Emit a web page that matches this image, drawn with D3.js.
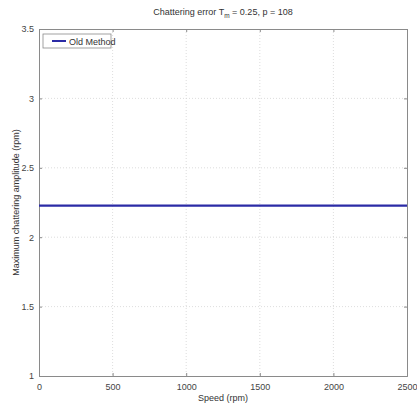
<!DOCTYPE html>
<html><head><meta charset="utf-8">
<script src="https://cdn.jsdelivr.net/npm/d3@7"></script>
<style>body{margin:0;background:#fff;} text{font-family:"Liberation Sans",Arial,sans-serif;}</style>
</head><body>
<svg id="c" width="417" height="407"></svg>
<script>
const speeds = [0, 2500];
const oldMethod = [2.227, 2.227];
const xTicks = [0, 500, 1000, 1500, 2000, 2500];
const yTicks = [1, 1.5, 2, 2.5, 3, 3.5];
const seriesName = "Old Method";

const svg = d3.select("#c");
const m = {l:39, r:407, t:29, b:376};
const x = d3.scaleLinear().domain([0,2500]).range([m.l, m.r]);
const y = d3.scaleLinear().domain([1,3.5]).range([m.b, m.t]);

// grid
svg.append("g").selectAll("line").data(xTicks.slice(1,-1)).join("line")
  .attr("x1", d=>x(d)).attr("x2", d=>x(d)).attr("y1", m.t).attr("y2", m.b)
  .attr("stroke","#d4d4d4").attr("stroke-width",0.8).attr("stroke-dasharray","1,2");
svg.append("g").selectAll("line").data(yTicks.slice(1,-1)).join("line")
  .attr("y1", d=>y(d)).attr("y2", d=>y(d)).attr("x1", m.l).attr("x2", m.r)
  .attr("stroke","#d4d4d4").attr("stroke-width",0.8).attr("stroke-dasharray","1,2");

// axes
const xa = svg.append("g").attr("transform",`translate(0,${m.b})`)
  .call(d3.axisBottom(x).tickValues(xTicks).tickSize(-3).tickPadding(6).tickFormat(d3.format("d")));
const ya = svg.append("g").attr("transform",`translate(${m.l},0)`)
  .call(d3.axisLeft(y).tickValues(yTicks).tickSize(-3).tickPadding(5).tickFormat(d=>String(d)));
svg.append("g").attr("transform",`translate(0,${m.t})`)
  .call(d3.axisTop(x).tickValues(xTicks).tickSize(-3).tickFormat(""));
svg.append("g").attr("transform",`translate(${m.r},0)`)
  .call(d3.axisRight(y).tickValues(yTicks).tickSize(-3).tickFormat(""));
svg.selectAll(".domain").attr("stroke","#8a8a8a");
svg.selectAll(".tick line").attr("stroke","#8a8a8a");
svg.selectAll(".tick text").attr("fill","#444").attr("font-size","9px");
xa.selectAll(".tick text").attr("dy","0.9em");

// line
svg.append("path").datum(speeds.map((s,i)=>[s, oldMethod[i]]))
  .attr("fill","none").attr("stroke","#2b2ba6").attr("stroke-width",2.2)
  .attr("d", d3.line().x(d=>x(d[0])).y(d=>y(d[1])));

// legend
const lg = svg.append("g");
lg.append("rect").attr("x",43).attr("y",34).attr("width",68).attr("height",14)
  .attr("fill","#fff").attr("stroke","#8a8a8a").attr("stroke-width",0.8);
lg.append("line").attr("x1",52).attr("x2",66).attr("y1",41).attr("y2",41)
  .attr("stroke","#2b2ba6").attr("stroke-width",2);
lg.append("text").attr("x",69).attr("y",44.5).attr("font-size","9px").attr("fill","#333").text(seriesName);

// title
const t = svg.append("text").attr("x",223).attr("y",15).attr("text-anchor","middle")
  .attr("font-size","9px").attr("fill","#333");
t.append("tspan").text("Chattering error T");
t.append("tspan").attr("font-size","6.5px").attr("dy","3").text("m");
t.append("tspan").attr("dy","-3").text(" = 0.25, p = 108");

svg.append("text").attr("x",(m.l+m.r)/2).attr("y",401).attr("text-anchor","middle")
  .attr("font-size","9px").attr("fill","#333").text("Speed (rpm)");
svg.append("text").attr("transform",`translate(19,${(m.t+m.b)/2}) rotate(-90)`).attr("text-anchor","middle")
  .attr("font-size","9px").attr("fill","#333").text("Maximum chattering amplitude (rpm)");
</script>
</body></html>
